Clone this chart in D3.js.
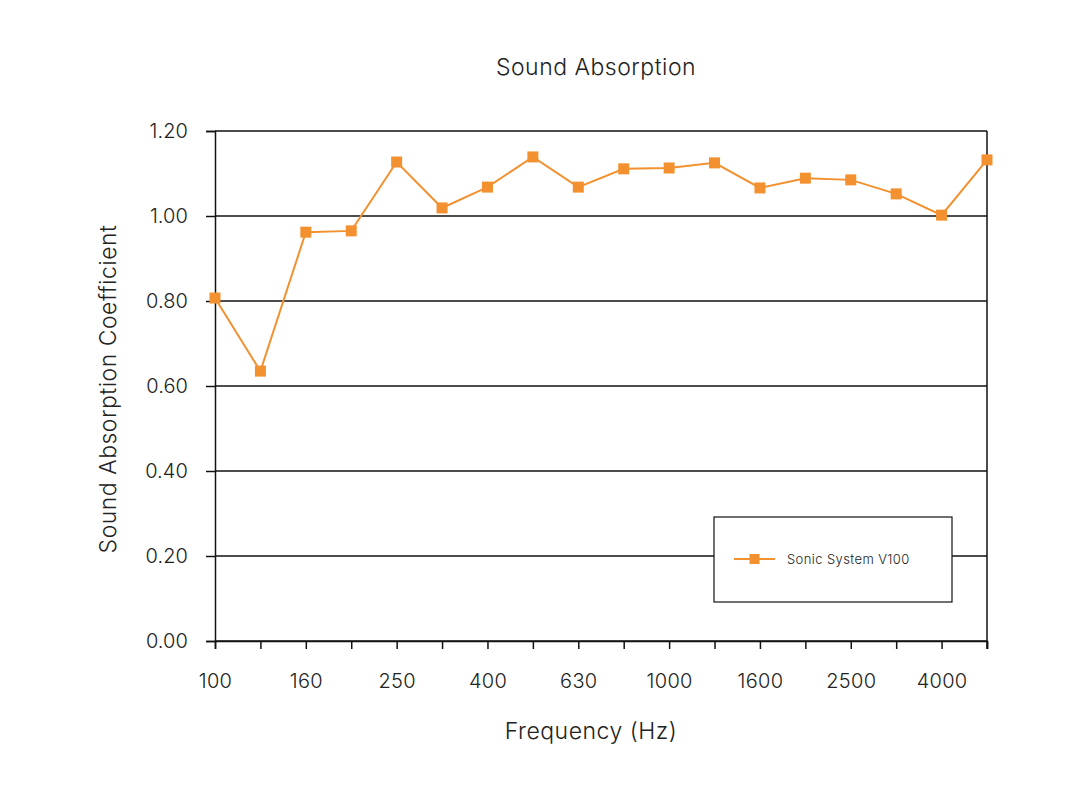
<!DOCTYPE html>
<html lang="en">
<head>
<meta charset="UTF-8">
<title>Sound Absorption</title>
<script src="https://d3js.org/d3.v7.min.js"></script>
<style>
  body { margin: 0; background: #fff; font-family: Inter, "Open Sans", sans-serif; }
  svg { display: block; }
  text { fill: #222; font-weight: 300; }
</style>
</head>
<body>
<svg></svg>
<script>
const frequencies = ["100","125","160","200","250","315","400","500","630","800","1000","1250","1600","2000","2500","3150","4000","5000"];
const absorption = [0.807,0.635,0.962,0.965,1.127,1.019,1.068,1.139,1.068,1.111,1.113,1.125,1.066,1.089,1.085,1.052,1.002,1.132];
const yTicks = [0, 0.2, 0.4, 0.6, 0.8, 1.0, 1.2];
const seriesName = "Sonic System V100";

const width = 1086, height = 803;
const margin = { top: 131, right: 99, bottom: 162, left: 215 };
const color = "#f39130";

const svg = d3.select("svg").attr("width", width).attr("height", height);

const x = d3.scalePoint().domain(frequencies).range([margin.left, width - margin.right]);
const y = d3.scaleLinear().domain([0, 1.2]).range([height - margin.bottom, margin.top]);

// horizontal grid lines
svg.append("g").selectAll("line").data(yTicks).join("line")
    .attr("x1", margin.left).attr("x2", width - margin.right)
    .attr("y1", d => y(d)).attr("y2", d => y(d))
    .attr("stroke", "#111").attr("stroke-width", 1.5);

// right border
svg.append("line")
    .attr("x1", width - margin.right).attr("x2", width - margin.right)
    .attr("y1", y(1.2)).attr("y2", y(0) + 8)
    .attr("stroke", "#111").attr("stroke-width", 1.5);

// y axis
const yAxis = svg.append("g")
    .attr("transform", `translate(${margin.left},0)`)
    .call(d3.axisLeft(y).tickValues(yTicks).tickFormat(d3.format(".2f")).tickSize(9).tickPadding(18));
yAxis.select(".domain").attr("stroke", "#111").attr("stroke-width", 1.5);
yAxis.selectAll(".tick line").attr("stroke", "#111").attr("stroke-width", 1.5);
yAxis.selectAll("text").attr("font-size", 20).attr("letter-spacing", 0.1)
    .attr("font-family", "Inter, sans-serif").attr("fill", "#222");

// x axis
const xAxis = svg.append("g")
    .attr("transform", `translate(0,${y(0)})`)
    .call(d3.axisBottom(x).tickSize(8).tickPadding(25)
        .tickFormat((d, i) => i % 2 === 0 ? d : ""));
xAxis.select(".domain").attr("stroke", "#111").attr("stroke-width", 1.5);
xAxis.selectAll(".tick line").attr("stroke", "#111").attr("stroke-width", 1.5);
xAxis.selectAll("text").attr("font-size", 20).attr("letter-spacing", 0.3)
    .attr("font-family", "Inter, sans-serif").attr("fill", "#222");

// series
const line = d3.line().x((d, i) => x(frequencies[i])).y(d => y(d));
svg.append("path").datum(absorption)
    .attr("fill", "none").attr("stroke", color).attr("stroke-width", 2)
    .attr("d", line);
svg.append("g").selectAll("rect").data(absorption).join("rect")
    .attr("x", (d, i) => x(frequencies[i]) - 5.5)
    .attr("y", d => y(d) - 5.5)
    .attr("width", 11).attr("height", 11)
    .attr("fill", color);

// titles
svg.append("text")
    .attr("x", 596).attr("y", 75)
    .attr("text-anchor", "middle").attr("font-size", 23).attr("letter-spacing", 0.5)
    .text("Sound Absorption");
svg.append("text")
    .attr("x", 591).attr("y", 739)
    .attr("text-anchor", "middle").attr("font-size", 23).attr("letter-spacing", 0.5)
    .text("Frequency (Hz)");
svg.append("text")
    .attr("transform", `translate(116,${y(0.6) + 3}) rotate(-90)`)
    .attr("text-anchor", "middle").attr("font-size", 23).attr("letter-spacing", 0.5)
    .text("Sound Absorption Coefficient");

// legend
const legend = svg.append("g").attr("transform", "translate(714,517)");
legend.append("rect")
    .attr("width", 238).attr("height", 85)
    .attr("fill", "#fff").attr("stroke", "#111").attr("stroke-width", 1.2);
legend.append("line")
    .attr("x1", 20).attr("x2", 61).attr("y1", 42).attr("y2", 42)
    .attr("stroke", color).attr("stroke-width", 2);
legend.append("rect")
    .attr("x", 35.5).attr("y", 37).attr("width", 10).attr("height", 10)
    .attr("fill", color);
legend.append("text")
    .attr("x", 73).attr("y", 46.5)
    .attr("font-size", 13).attr("letter-spacing", 0.4)
    .text(seriesName);
</script>
</body>
</html>
